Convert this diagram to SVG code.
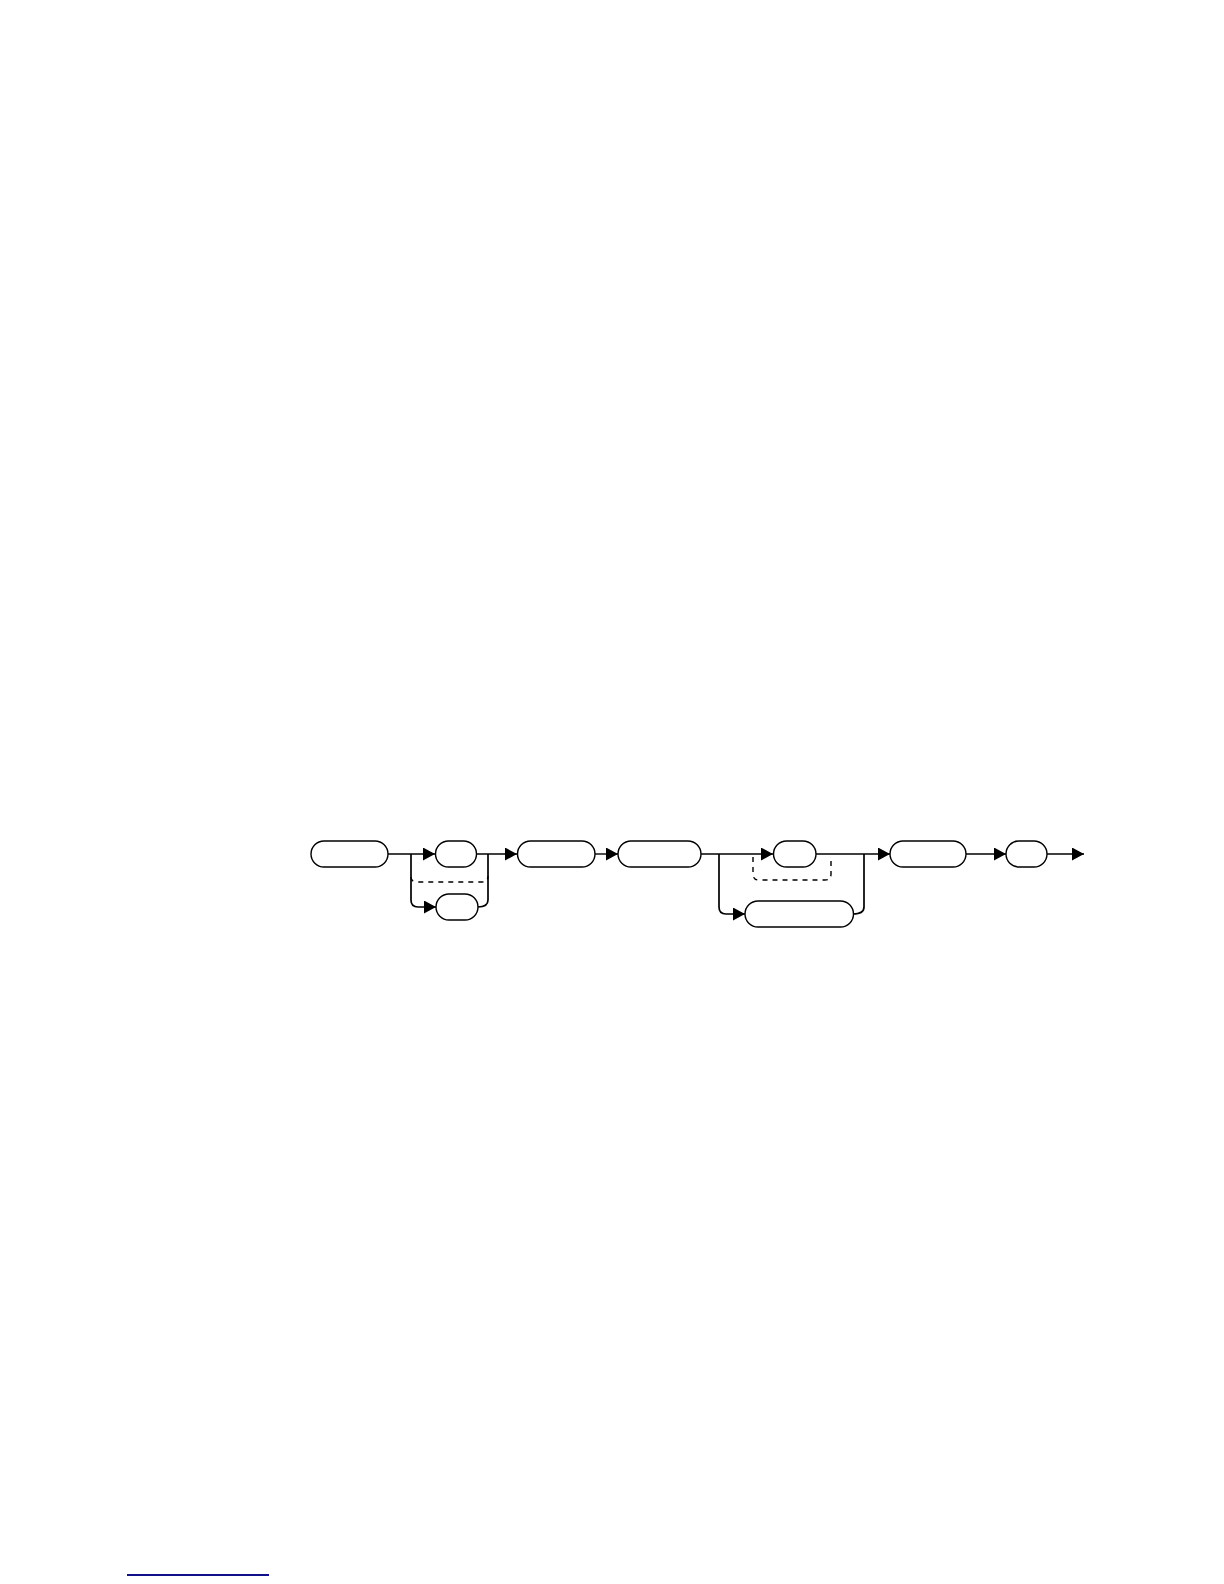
<svg xmlns="http://www.w3.org/2000/svg" width="1224" height="1584" viewBox="0 0 1224 1584">
<defs>
<style>
.pill{fill:#ffffff;stroke:#000000;stroke-width:1.4}
.ln{fill:none;stroke:#000000;stroke-width:1.4}
.vl{fill:none;stroke:#000000;stroke-width:1.7}
.dash{fill:none;stroke:#000000;stroke-width:1.4;stroke-dasharray:5 5}
</style>
<marker id="arr" markerUnits="userSpaceOnUse" markerWidth="13" markerHeight="14" refX="12" refY="6.5" orient="auto">
<path d="M0,0 L12,6.5 L0,13 Z" fill="#000000"/>
</marker>
</defs>
<rect width="1224" height="1584" fill="#ffffff"/>
<g id="connectors">
<path class="ln" d="M388,854 H435" marker-end="url(#arr)"/>
<path class="vl" d="M411,854 V900 Q411,907 418,907 H436" marker-end="url(#arr)"/>
<path class="vl" d="M488,854 V900 Q488,907 478,907"/>
<path class="ln" d="M476,854 H517" marker-end="url(#arr)"/>
<path class="dash" d="M411,877 Q411,882 417,882 H482 Q488,882 488,876"/>
<path class="ln" d="M595,854 H618" marker-end="url(#arr)"/>
<path class="ln" d="M701,854 H773" marker-end="url(#arr)"/>
<path class="vl" d="M719,854 V907 Q719,914 726,914 H745" marker-end="url(#arr)"/>
<path class="vl" d="M864,854 V907 Q864,914 853,914"/>
<path class="dash" d="M753,857 V874 Q753,880 759,880 H825 Q831,880 831,874 V857"/>
<path class="ln" d="M816,854 H890" marker-end="url(#arr)"/>
<path class="ln" d="M966,854 H1006" marker-end="url(#arr)"/>
<path class="ln" d="M1047,854 H1084" marker-end="url(#arr)"/>
</g>
<g id="n1"><rect class="pill" x="311" y="841" width="77" height="26" rx="13"/></g>
<g id="n2"><rect class="pill" x="435.5" y="841" width="41" height="26" rx="13"/></g>
<g id="n3"><rect class="pill" x="436" y="894" width="42" height="26" rx="13"/></g>
<g id="n4"><rect class="pill" x="517.5" y="841" width="77.5" height="26" rx="13"/></g>
<g id="n5"><rect class="pill" x="618" y="841" width="83" height="26" rx="13"/></g>
<g id="n6"><rect class="pill" x="773.5" y="841" width="42.5" height="26" rx="13"/></g>
<g id="n7"><rect class="pill" x="745" y="901" width="108.5" height="26" rx="13"/></g>
<g id="n8"><rect class="pill" x="890" y="841" width="76" height="26" rx="13"/></g>
<g id="n9"><rect class="pill" x="1006" y="841" width="41" height="26" rx="13"/></g>
<line x1="127" y1="1575" x2="269" y2="1575" stroke="#10108a" stroke-width="1.8"/>
</svg>
